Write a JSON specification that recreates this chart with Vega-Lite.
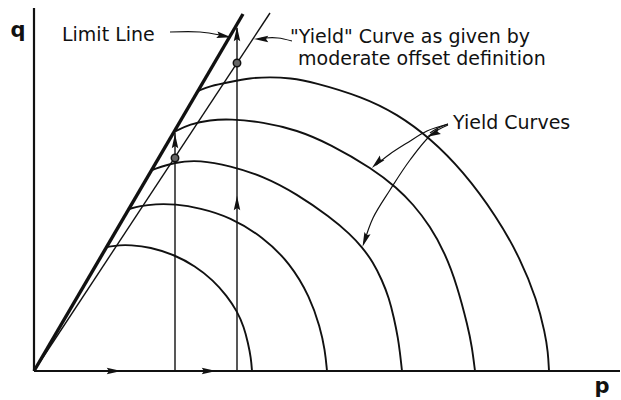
{
  "$schema": "https://vega.github.io/schema/vega-lite/v6.json",
  "width": 587,
  "height": 371,
  "autosize": "none",
  "padding": {"left": 34, "top": 0, "right": 0, "bottom": 29},
  "background": "white",
  "config": {"view": {"stroke": null}, "text": {"font": "DejaVu Sans"}},
  "datasets": {
    "axes": [
      {"axis": "q", "p": 0, "q": 0, "p2": 0, "q2": 363},
      {"axis": "p", "p": 0, "q": 0, "p2": 586, "q2": 0}
    ],
    "lines": [
      {"series": "limit", "i": 0, "p": 0, "q": 0},
      {"series": "limit", "i": 1, "p": 209, "q": 357},
      {"series": "offset", "i": 0, "p": 0, "q": 0},
      {"series": "offset", "i": 1, "p": 236, "q": 358},
      {"series": "path1", "i": 0, "p": 141, "q": 0},
      {"series": "path1", "i": 1, "p": 141, "q": 238},
      {"series": "path2", "i": 0, "p": 203, "q": 0},
      {"series": "path2", "i": 1, "p": 203, "q": 343}
    ],
    "arcs": [
      {"series": "y1", "i": 0, "p": 73, "q": 124},
      {"series": "y1", "i": 1, "p": 86, "q": 126},
      {"series": "y1", "i": 2, "p": 96, "q": 126},
      {"series": "y1", "i": 3, "p": 116, "q": 124},
      {"series": "y1", "i": 4, "p": 141, "q": 116},
      {"series": "y1", "i": 5, "p": 161, "q": 105},
      {"series": "y1", "i": 6, "p": 179, "q": 91},
      {"series": "y1", "i": 7, "p": 193, "q": 75},
      {"series": "y1", "i": 8, "p": 203, "q": 60},
      {"series": "y1", "i": 9, "p": 210, "q": 44},
      {"series": "y1", "i": 10, "p": 214, "q": 28},
      {"series": "y1", "i": 11, "p": 217, "q": 13},
      {"series": "y1", "i": 12, "p": 218, "q": 0},
      {"series": "y2", "i": 0, "p": 95, "q": 162},
      {"series": "y2", "i": 1, "p": 106, "q": 165},
      {"series": "y2", "i": 2, "p": 121, "q": 167},
      {"series": "y2", "i": 3, "p": 141, "q": 167},
      {"series": "y2", "i": 4, "p": 166, "q": 163},
      {"series": "y2", "i": 5, "p": 196, "q": 154},
      {"series": "y2", "i": 6, "p": 229, "q": 134},
      {"series": "y2", "i": 7, "p": 256, "q": 108},
      {"series": "y2", "i": 8, "p": 276, "q": 74},
      {"series": "y2", "i": 9, "p": 286, "q": 44},
      {"series": "y2", "i": 10, "p": 291, "q": 21},
      {"series": "y2", "i": 11, "p": 293, "q": 0},
      {"series": "y3", "i": 0, "p": 118, "q": 201},
      {"series": "y3", "i": 1, "p": 141, "q": 209},
      {"series": "y3", "i": 2, "p": 166, "q": 211},
      {"series": "y3", "i": 3, "p": 196, "q": 205},
      {"series": "y3", "i": 4, "p": 229, "q": 195},
      {"series": "y3", "i": 5, "p": 263, "q": 177},
      {"series": "y3", "i": 6, "p": 296, "q": 154},
      {"series": "y3", "i": 7, "p": 316, "q": 137},
      {"series": "y3", "i": 8, "p": 328, "q": 124},
      {"series": "y3", "i": 9, "p": 339, "q": 109},
      {"series": "y3", "i": 10, "p": 348, "q": 91},
      {"series": "y3", "i": 11, "p": 355, "q": 73},
      {"series": "y3", "i": 12, "p": 360, "q": 53},
      {"series": "y3", "i": 13, "p": 364, "q": 33},
      {"series": "y3", "i": 14, "p": 366, "q": 18},
      {"series": "y3", "i": 15, "p": 367, "q": 9},
      {"series": "y3", "i": 16, "p": 368, "q": 0},
      {"series": "y4", "i": 0, "p": 140, "q": 239},
      {"series": "y4", "i": 1, "p": 156, "q": 247},
      {"series": "y4", "i": 2, "p": 176, "q": 251},
      {"series": "y4", "i": 3, "p": 196, "q": 252},
      {"series": "y4", "i": 4, "p": 229, "q": 249},
      {"series": "y4", "i": 5, "p": 263, "q": 241},
      {"series": "y4", "i": 6, "p": 296, "q": 227},
      {"series": "y4", "i": 7, "p": 339, "q": 202},
      {"series": "y4", "i": 8, "p": 363, "q": 183},
      {"series": "y4", "i": 9, "p": 379, "q": 167},
      {"series": "y4", "i": 10, "p": 396, "q": 145},
      {"series": "y4", "i": 11, "p": 411, "q": 118},
      {"series": "y4", "i": 12, "p": 423, "q": 86},
      {"series": "y4", "i": 13, "p": 434, "q": 44},
      {"series": "y4", "i": 14, "p": 438, "q": 24},
      {"series": "y4", "i": 15, "p": 441, "q": 0},
      {"series": "y5", "i": 0, "p": 164, "q": 280},
      {"series": "y5", "i": 1, "p": 176, "q": 285},
      {"series": "y5", "i": 2, "p": 196, "q": 289},
      {"series": "y5", "i": 3, "p": 216, "q": 293},
      {"series": "y5", "i": 4, "p": 236, "q": 294},
      {"series": "y5", "i": 5, "p": 256, "q": 293},
      {"series": "y5", "i": 6, "p": 279, "q": 289},
      {"series": "y5", "i": 7, "p": 329, "q": 274},
      {"series": "y5", "i": 8, "p": 363, "q": 257},
      {"series": "y5", "i": 9, "p": 396, "q": 233},
      {"series": "y5", "i": 10, "p": 429, "q": 200},
      {"series": "y5", "i": 11, "p": 463, "q": 154},
      {"series": "y5", "i": 12, "p": 486, "q": 113},
      {"series": "y5", "i": 13, "p": 503, "q": 71},
      {"series": "y5", "i": 14, "p": 511, "q": 38},
      {"series": "y5", "i": 15, "p": 514, "q": 19},
      {"series": "y5", "i": 16, "p": 515, "q": 0}
    ],
    "leaders": [
      {"series": "limit", "i": 0, "p": 136, "q": 339},
      {"series": "limit", "i": 1, "p": 166, "q": 339},
      {"series": "limit", "i": 2, "p": 186, "q": 336},
      {"series": "limit", "i": 3, "p": 194, "q": 334},
      {"series": "offset", "i": 0, "p": 258, "q": 330},
      {"series": "offset", "i": 1, "p": 244, "q": 333},
      {"series": "offset", "i": 2, "p": 231, "q": 333},
      {"series": "offset", "i": 3, "p": 224, "q": 332},
      {"series": "toY5", "i": 0, "p": 414, "q": 247},
      {"series": "toY5", "i": 1, "p": 404, "q": 243},
      {"series": "toY5", "i": 2, "p": 396, "q": 238},
      {"series": "toY4", "i": 0, "p": 414, "q": 247},
      {"series": "toY4", "i": 1, "p": 393, "q": 240},
      {"series": "toY4", "i": 2, "p": 373, "q": 228},
      {"series": "toY4", "i": 3, "p": 356, "q": 217},
      {"series": "toY4", "i": 4, "p": 342, "q": 206},
      {"series": "toY3", "i": 0, "p": 414, "q": 246},
      {"series": "toY3", "i": 1, "p": 398, "q": 237},
      {"series": "toY3", "i": 2, "p": 376, "q": 211},
      {"series": "toY3", "i": 3, "p": 356, "q": 181},
      {"series": "toY3", "i": 4, "p": 339, "q": 153},
      {"series": "toY3", "i": 5, "p": 330, "q": 128}
    ],
    "heads": [
      {"p": 80, "q": 0, "dir": 90},
      {"p": 175, "q": 0, "dir": 90},
      {"p": 141, "q": 230, "dir": 0},
      {"p": 203, "q": 337, "dir": 0},
      {"p": 203, "q": 168, "dir": 0},
      {"p": 190, "q": 335, "dir": 100},
      {"p": 227, "q": 332, "dir": 270},
      {"p": 399, "q": 237, "dir": 245},
      {"p": 343, "q": 208, "dir": 225},
      {"p": 331, "q": 131, "dir": 200}
    ],
    "dots": [
      {"p": 141, "q": 213},
      {"p": 203, "q": 308}
    ],
    "labels": [
      {"text": "Limit Line", "p": 28, "q": 330},
      {"text": "\"Yield\" Curve as given by", "p": 256, "q": 328},
      {"text": "moderate offset definition", "p": 264, "q": 306},
      {"text": "Yield Curves", "p": 419, "q": 242}
    ],
    "axisNames": [
      {"text": "q", "p": -16, "q": 334},
      {"text": "p", "p": 568, "q": -22}
    ]
  },
  "encoding": {
    "x": {"field": "p", "type": "quantitative", "scale": {"domain": [0, 587], "nice": false, "zero": false}, "axis": null},
    "y": {"field": "q", "type": "quantitative", "scale": {"domain": [0, 371], "nice": false, "zero": false}, "axis": null}
  },
  "layer": [
    {
      "data": {"name": "axes"},
      "mark": {"type": "rule", "color": "#111", "strokeWidth": 2.2},
      "encoding": {"x2": {"field": "p2"}, "y2": {"field": "q2"}}
    },
    {
      "data": {"name": "lines"},
      "transform": [{"filter": "datum.series === 'limit'"}],
      "mark": {"type": "line", "color": "#111", "strokeWidth": 3.4},
      "encoding": {"detail": {"field": "series"}, "order": {"field": "i"}}
    },
    {
      "data": {"name": "lines"},
      "transform": [{"filter": "datum.series !== 'limit'"}],
      "mark": {"type": "line", "color": "#111", "strokeWidth": 1.4},
      "encoding": {"detail": {"field": "series"}, "order": {"field": "i"}}
    },
    {
      "data": {"name": "arcs"},
      "mark": {"type": "line", "color": "#111", "strokeWidth": 1.9, "interpolate": "basis"},
      "encoding": {"detail": {"field": "series"}, "order": {"field": "i"}}
    },
    {
      "data": {"name": "leaders"},
      "mark": {"type": "line", "color": "#111", "strokeWidth": 1.2, "interpolate": "catmull-rom"},
      "encoding": {"detail": {"field": "series"}, "order": {"field": "i"}}
    },
    {
      "data": {"name": "heads"},
      "mark": {"type": "point", "shape": "M0,-1L0.45,1L0,0.7L-0.45,1Z", "filled": true, "color": "#111", "size": 210, "opacity": 1},
      "encoding": {"angle": {"field": "dir", "type": "quantitative", "scale": null}}
    },
    {
      "data": {"name": "dots"},
      "mark": {"type": "point", "shape": "circle", "filled": true, "fill": "#666", "stroke": "#111", "strokeWidth": 1.5, "size": 55, "opacity": 1}
    },
    {
      "data": {"name": "labels"},
      "mark": {"type": "text", "align": "left", "baseline": "alphabetic", "fontSize": 19, "color": "#111"},
      "encoding": {"text": {"field": "text"}}
    },
    {
      "data": {"name": "axisNames"},
      "mark": {"type": "text", "align": "center", "baseline": "alphabetic", "fontSize": 21, "fontWeight": "bold", "color": "#111"},
      "encoding": {"text": {"field": "text"}}
    }
  ]
}
